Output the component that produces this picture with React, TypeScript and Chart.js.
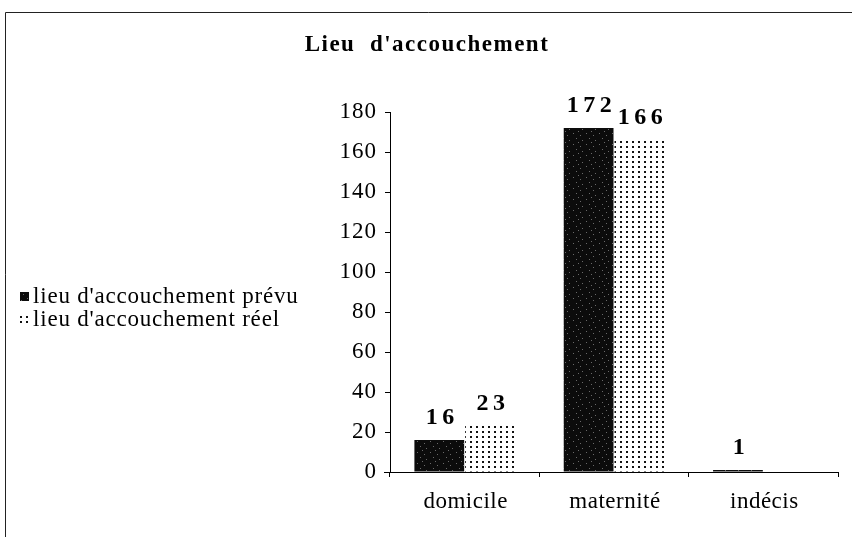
import { useEffect, useRef } from 'react';
import { Chart, registerables } from 'chart.js';

Chart.register(...registerables);

const chartTitle = "Lieu  d'accouchement";
const categories = ['domicile', 'maternité', 'indécis'];
const seriesNames = ["lieu d'accouchement prévu", "lieu d'accouchement réel"];
const prevuValues = [16, 172, 1];
const reelValues = [23, 166, 0];
const yMin = 0;
const yMax = 180;
const yStep = 20;

const FONT = '"Liberation Serif", "Times New Roman", serif';

function makeDarkPattern(ctx: CanvasRenderingContext2D): CanvasPattern {
  const c = document.createElement('canvas');
  c.width = 13;
  c.height = 11;
  const g = c.getContext('2d')!;
  g.fillStyle = '#0c0c0c';
  g.fillRect(0, 0, 13, 11);
  g.fillStyle = '#6a6a6a';
  const specks = [
    [1, 1], [8, 3], [4, 6], [10, 8], [6, 10],
  ];
  specks.forEach(([x, y]) => g.fillRect(x, y, 1, 1));
  return ctx.createPattern(c, 'repeat')!;
}

function makeDotPattern(ctx: CanvasRenderingContext2D): CanvasPattern {
  const c = document.createElement('canvas');
  c.width = 6;
  c.height = 5;
  const g = c.getContext('2d')!;
  g.fillStyle = '#ffffff';
  g.fillRect(0, 0, 6, 5);
  g.fillStyle = '#111111';
  g.fillRect(2, 1, 2, 2);
  return ctx.createPattern(c, 'repeat')!;
}

export default function App() {
  const ref = useRef<HTMLCanvasElement | null>(null);

  useEffect(() => {
    const canvas = ref.current;
    if (!canvas) return;
    const ctx = canvas.getContext('2d')!;
    const dark = makeDarkPattern(ctx);
    const dots = makeDotPattern(ctx);

    const deco = {
      id: 'deco',
      beforeDraw(chart: any) {
        chart.ctx.letterSpacing = '1px';
      },
      afterDatasetsDraw(chart: any) {
        const c = chart.ctx as CanvasRenderingContext2D;
        c.save();
        c.font = `bold 24px ${FONT}`;
        (c as any).letterSpacing = '4.5px';
        c.fillStyle = '#000';
        c.textAlign = 'center';
        c.textBaseline = 'alphabetic';
        chart.data.datasets.forEach((ds: any, di: number) => {
          const meta = chart.getDatasetMeta(di);
          meta.data.forEach((bar: any, i: number) => {
            const v = ds.data[i];
            if (!v) return;
            c.fillText(String(v), bar.x + 3, bar.y - 16);
          });
        });
        c.restore();
      },
      afterDraw(chart: any) {
        const c = chart.ctx as CanvasRenderingContext2D;
        const xs = chart.scales.x;
        const area = chart.chartArea;
        c.save();
        // frame
        c.strokeStyle = '#222';
        c.lineWidth = 1;
        c.beginPath();
        c.moveTo(5.5, 537);
        c.lineTo(5.5, 12.5);
        c.lineTo(852, 12.5);
        c.stroke();
        // x axis small extension left of y axis
        c.strokeStyle = '#000';
        c.beginPath();
        c.moveTo(area.left - 6, area.bottom + 0.5);
        c.lineTo(area.left, area.bottom + 0.5);
        c.stroke();
        // title
        c.fillStyle = '#000';
        c.font = `bold 23px ${FONT}`;
        (c as any).letterSpacing = '1.5px';
        c.textAlign = 'center';
        c.textBaseline = 'alphabetic';
        c.fillText(chartTitle, 427, 51);
        // x labels
        c.font = `23px ${FONT}`;
        (c as any).letterSpacing = '0.5px';
        c.textBaseline = 'middle';
        categories.forEach((lab, i) => {
          c.fillText(lab, xs.getPixelForValue(i) + 1, 502);
        });
        // legend
        c.textAlign = 'left';
        (c as any).letterSpacing = '0.8px';
        const rows = [297, 320];
        const fills = [dark, dots];
        seriesNames.forEach((name, i) => {
          c.fillStyle = fills[i];
          c.fillRect(20, rows[i] - 5, 9, 9);
          c.fillStyle = '#000';
          c.fillText(name, 33, rows[i]);
        });
        c.restore();
      },
    };

    const chart = new Chart(canvas, {
      type: 'bar',
      data: {
        labels: categories,
        datasets: [
          {
            label: seriesNames[0],
            data: prevuValues,
            backgroundColor: dark,
            borderWidth: 0,
            categoryPercentage: 0.68,
            barPercentage: 0.98,
          },
          {
            label: seriesNames[1],
            data: reelValues,
            backgroundColor: dots,
            borderWidth: 0,
            categoryPercentage: 0.68,
            barPercentage: 0.98,
          },
        ],
      },
      options: {
        responsive: false,
        animation: false,
        devicePixelRatio: 1,
        layout: { padding: { left: 320, right: 14, top: 112, bottom: 15 } },
        plugins: {
          legend: { display: false },
          title: { display: false },
          tooltip: { enabled: false },
        },
        scales: {
          x: {
            offset: true,
            grid: {
              display: true,
              drawOnChartArea: false,
              offset: true,
              tickLength: 5,
              color: '#000',
            },
            border: { display: true, color: '#000', width: 1 },
            ticks: { display: false },
            afterFit(scale: any) {
              scale.height = 50;
            },
          },
          y: {
            min: yMin,
            max: yMax,
            grid: {
              display: true,
              drawOnChartArea: false,
              tickLength: 5,
              color: '#000',
            },
            border: { display: true, color: '#000', width: 1 },
            ticks: {
              stepSize: yStep,
              color: '#000',
              padding: 8,
              font: { family: FONT, size: 23 },
            },
            afterFit(scale: any) {
              scale.width = 70;
            },
          },
        },
      },
      plugins: [deco],
    });

    return () => chart.destroy();
  }, []);

  return (
    <div style={{ position: 'absolute', left: 0, top: 0, width: 852, height: 537, background: '#fff' }}>
      <canvas ref={ref} width={852} height={537} style={{ display: 'block' }} />
    </div>
  );
}
